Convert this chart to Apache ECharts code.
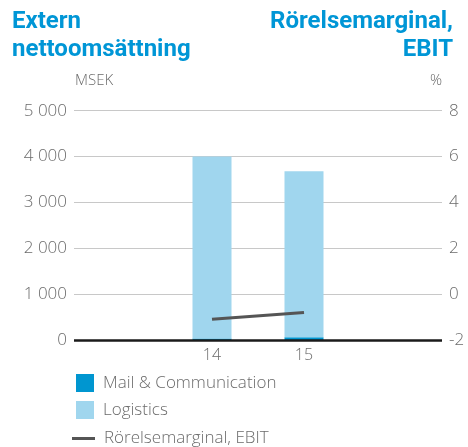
<!DOCTYPE html>
<html><head><meta charset="utf-8">
<script src="https://cdn.jsdelivr.net/npm/echarts@6/dist/echarts.min.js"></script>
<style>html,body{margin:0;padding:0;background:#fff}#c{width:468px;height:447px}</style>
</head><body><div id="c"></div>
<script>
const categories = ['', '14', '15', ''];
const mailComm = [null, 30, 60, null];
const logistics = [null, 3970, 3620, null];
const ebitMargin = [null, -1.1, -0.8, null];
const leftTicks = [0, 1000, 2000, 3000, 4000, 5000];
const rightTicks = [-2, 0, 2, 4, 6, 8];

const font = '"Open Sans", Roboto, sans-serif';
const tfont = 'Roboto, "Noto Sans", sans-serif';
const gray = '#6b6b6b';
const blue = '#0096d6';
const chart = echarts.init(document.getElementById('c'));
chart.setOption({
  animation: false,
  textStyle: { fontFamily: font },
  graphic: [
    { type: 'text', left: 12, top: 10, style: { text: 'Extern', fill: blue, font: 'bold 24px ' + tfont } },
    { type: 'text', left: 12, top: 38, style: { text: 'nettoomsättning', fill: blue, font: 'bold 24px ' + tfont } },
    { type: 'text', right: 15, top: 10, style: { text: 'Rörelsemarginal,', fill: blue, font: 'bold 24px ' + tfont } },
    { type: 'text', right: 15, top: 38, style: { text: 'EBIT', fill: blue, font: 'bold 24px ' + tfont } },
    { type: 'text', left: 75, top: 73, style: { text: 'MSEK', fill: gray, font: '300 15px ' + font } },
    { type: 'text', right: 26, top: 73, style: { text: '%', fill: gray, font: '300 15px ' + font } }
  ],
  grid: { left: 74, right: 26, top: 110.7, bottom: 107, containLabel: false },
  legend: [
    { data: ['Mail & Communication', 'Logistics'], orient: 'vertical', left: 76, top: 374, padding: 0, itemWidth: 18, itemHeight: 18, itemGap: 9, icon: 'rect',
      textStyle: { color: gray, fontSize: 17, fontWeight: 300, fontFamily: font, padding: [0, 0, 0, 4] } },
    { data: ['Rörelsemarginal, EBIT'], orient: 'vertical', left: 72, top: 430, padding: 0, itemWidth: 23, itemHeight: 3, icon: 'rect',
      textStyle: { color: gray, fontSize: 17, fontWeight: 300, fontFamily: font, padding: [0, 0, 0, 4] } }
  ],
  xAxis: {
    type: 'category', data: categories,
    axisLine: { show: false }, axisTick: { show: false },
    axisLabel: { color: gray, fontSize: 16, fontWeight: 300, margin: 7 }
  },
  yAxis: [
    { type: 'value', min: 0, max: 5000, interval: 1000,
      axisLine: { show: false }, axisTick: { show: false },
      splitLine: { lineStyle: { color: '#c8c8c8', width: 1 } },
      axisLabel: { color: gray, fontSize: 17, fontWeight: 300, margin: 7,
        formatter: v => v === 0 ? '0' : String(v).replace(/(\d)(?=(\d{3})+$)/g, '$1 ') } },
    { type: 'value', min: -2, max: 8, interval: 2,
      axisLine: { show: false }, axisTick: { show: false }, splitLine: { show: false },
      axisLabel: { color: gray, fontSize: 17, fontWeight: 300, margin: 7 } }
  ],
  series: [
    { name: 'Mail & Communication', type: 'bar', stack: 's', data: mailComm, barWidth: 39, itemStyle: { color: '#0096d0' } },
    { name: 'Logistics', type: 'bar', stack: 's', data: logistics, barWidth: 39, itemStyle: { color: '#a0d6ee' },
      markLine: { silent: true, symbol: 'none', label: { show: false }, lineStyle: { color: '#1a1a1a', width: 2.5, type: 'solid' }, data: [{ yAxis: 0 }] } },
    { name: 'Rörelsemarginal, EBIT', type: 'line', yAxisIndex: 1, data: ebitMargin, symbol: 'none', color: '#555555',
      lineStyle: { color: '#555555', width: 3 }, z: 5 }
  ]
});
</script></body></html>
